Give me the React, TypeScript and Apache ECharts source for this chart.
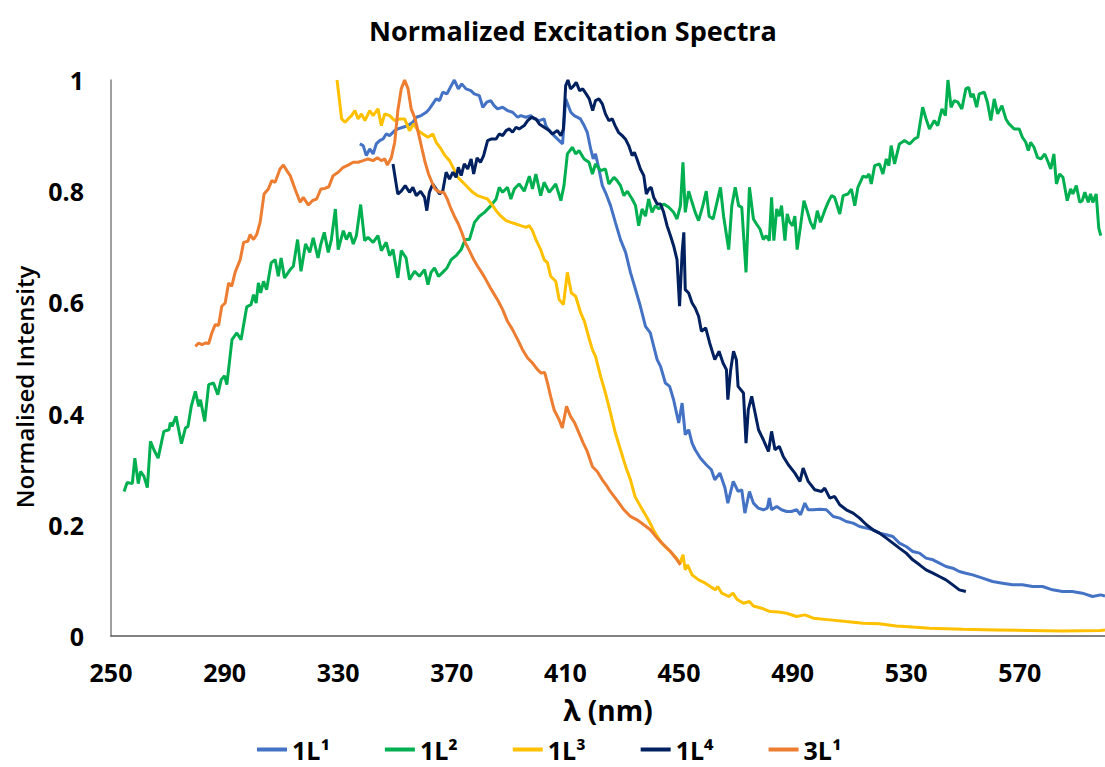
import React, { useEffect, useRef } from "react";
import * as echarts from "echarts";

const xTickLabels = [250, 290, 330, 370, 410, 450, 490, 530, 570];
const yTickLabels = [0, 0.2, 0.4, 0.6, 0.8, 1];
const seriesNames = ["1L¹", "1L²", "1L³", "1L⁴", "3L¹"];
const seriesColors = ["#4472C4", "#00B050", "#FFC000", "#002060", "#ED7D31"];

const data1L1: [number, number][] = [
  [337.6,0.885],[338.8,0.882],[339.9,0.864],[341.1,0.876],[342.3,0.867],[343.4,0.885],[344.6,0.891],[345.8,0.894],[346.9,0.903],[348.1,0.9],[349.9,0.909],[351,0.912],[352.8,0.915],[354.6,0.918],[356.3,0.924],[357.5,0.933],[359.2,0.936],[361,0.942],[362.1,0.948],[363.3,0.957],[364.5,0.966],[365.7,0.963],[366.8,0.978],[368.3,0.975],[369.5,0.987],[370.9,1.0],[372.3,0.984],[373.5,0.993],[375,0.984],[376.7,0.981],[377.9,0.975],[379.7,0.972],[380.9,0.951],[382.3,0.96],[383.7,0.963],[384.9,0.954],[386.1,0.948],[387.9,0.951],[389.6,0.945],[391.4,0.942],[393.2,0.933],[394.3,0.936],[396.1,0.933],[397.8,0.936],[399,0.93],[400.8,0.927],[402.5,0.93],[403.1,0.918],[404.3,0.909],[406,0.9],[407.8,0.891],[409,0.885],[410.1,0.966],[411.9,0.942],[413.1,0.936],[415.3,0.93],[416.6,0.918],[417.7,0.906],[418.9,0.876],[419.8,0.858],[420.6,0.867],[421.8,0.84],[423,0.81],[424.1,0.798],[425.9,0.774],[427.6,0.744],[429.4,0.713],[431.2,0.69],[432.9,0.654],[434.7,0.623],[436.4,0.593],[438.2,0.557],[439.9,0.545],[441.1,0.521],[442.3,0.497],[443.5,0.485],[445.2,0.455],[446.7,0.449],[448.1,0.425],[449.9,0.383],[451.1,0.419],[452.2,0.362],[453.4,0.371],[454.6,0.347],[455.7,0.335],[457.5,0.32],[459.6,0.308],[461.4,0.299],[462.6,0.281],[464.4,0.293],[466.2,0.266],[467.2,0.239],[469.1,0.278],[470.8,0.26],[472.1,0.263],[473.2,0.221],[474.8,0.26],[476.2,0.239],[477.9,0.23],[479.7,0.227],[481.1,0.23],[481.8,0.248],[482.6,0.227],[484.4,0.233],[486.1,0.227],[487.9,0.224],[489.6,0.224],[491.4,0.227],[492.8,0.218],[494.3,0.239],[495.5,0.227],[497.3,0.227],[499.6,0.228],[501.9,0.227],[504.3,0.215],[506.6,0.212],[508.9,0.206],[511.3,0.203],[513.6,0.197],[516,0.194],[518.3,0.191],[520.6,0.185],[523,0.182],[525.3,0.179],[527.6,0.167],[530,0.161],[532.3,0.152],[534.7,0.149],[537,0.14],[539.4,0.137],[541.7,0.131],[544,0.125],[546.4,0.122],[548.7,0.116],[551,0.113],[553.4,0.11],[556.9,0.104],[560.4,0.098],[563.9,0.095],[567.4,0.092],[570.9,0.092],[574.5,0.089],[578,0.089],[581.5,0.083],[585,0.08],[588.5,0.08],[592,0.077],[595.6,0.071],[598.5,0.074],[600,0.072]
];

const data1L2: [number, number][] = [
  [254.6,0.26],[255.7,0.276],[257.5,0.274],[258.4,0.32],[259.6,0.274],[260.4,0.296],[261.6,0.287],[262.8,0.267],[263.9,0.35],[265.1,0.335],[266.6,0.32],[268.6,0.368],[270.4,0.371],[270.9,0.384],[271.5,0.377],[272.9,0.395],[274.8,0.346],[276.2,0.374],[277.1,0.377],[278.3,0.414],[279.7,0.44],[280.9,0.413],[281.5,0.425],[283,0.386],[284.4,0.452],[286.1,0.455],[287.6,0.434],[288.8,0.461],[290,0.468],[290.8,0.452],[292.6,0.533],[294.3,0.545],[295.8,0.533],[297.8,0.592],[299.3,0.596],[300.2,0.614],[301.1,0.599],[301.9,0.635],[302.7,0.617],[303.7,0.638],[304.8,0.623],[306.4,0.671],[307.8,0.677],[308.9,0.647],[309.9,0.68],[311.1,0.644],[313.1,0.659],[314.2,0.665],[315.7,0.713],[316.9,0.656],[318.5,0.705],[320,0.69],[321.2,0.716],[322.9,0.68],[323.9,0.705],[325.1,0.726],[326.5,0.69],[327.6,0.713],[329,0.768],[330,0.695],[331.8,0.729],[332.9,0.713],[334.1,0.726],[335.3,0.705],[336.4,0.72],[337.9,0.776],[339.3,0.711],[340.5,0.717],[342.3,0.708],[344,0.72],[345.2,0.693],[346.9,0.708],[348.1,0.684],[349.3,0.695],[351,0.644],[352.2,0.693],[353.9,0.68],[355.1,0.641],[356.9,0.656],[358.6,0.647],[360.4,0.659],[361.6,0.632],[362.7,0.654],[363.9,0.662],[365.3,0.647],[366.8,0.654],[368.3,0.662],[369.8,0.677],[371.5,0.684],[373.3,0.695],[374.7,0.713],[376.2,0.713],[378,0.744],[379.7,0.755],[381.5,0.762],[383.8,0.774],[385.6,0.786],[386.7,0.807],[387.9,0.798],[389.6,0.807],[390.8,0.786],[392,0.804],[393.7,0.813],[395.5,0.8],[397.3,0.827],[398.4,0.804],[399.6,0.831],[401.3,0.792],[402.5,0.816],[404.3,0.798],[406.6,0.813],[408.4,0.783],[409.5,0.81],[410.7,0.867],[412.5,0.879],[413.6,0.867],[414.8,0.873],[416.6,0.858],[418.3,0.852],[419.5,0.831],[420.6,0.849],[422.4,0.837],[424.1,0.84],[425.3,0.813],[427.1,0.825],[428.2,0.819],[429.4,0.81],[430.6,0.792],[431.8,0.8],[433.5,0.786],[434.7,0.774],[435.8,0.738],[437,0.768],[438.2,0.755],[439.3,0.786],[440.5,0.762],[441.7,0.774],[442.9,0.768],[444.6,0.777],[446.4,0.771],[448.1,0.762],[449.3,0.75],[450.5,0.774],[451.4,0.852],[452.2,0.762],[453.4,0.8],[454.6,0.78],[455.7,0.762],[456.9,0.747],[458.4,0.774],[459.6,0.8],[460.6,0.755],[462,0.75],[463.1,0.774],[464.6,0.807],[465.7,0.755],[467.5,0.695],[468.6,0.774],[469.8,0.807],[471,0.774],[472.1,0.771],[473.6,0.654],[474.8,0.807],[476.2,0.75],[477.3,0.741],[478.5,0.732],[479.7,0.713],[480.7,0.72],[481.8,0.711],[482.6,0.789],[483.4,0.711],[484.4,0.768],[485.3,0.755],[486.1,0.774],[487.3,0.711],[488.1,0.759],[489,0.744],[490,0.738],[490.8,0.755],[491.6,0.695],[492.8,0.738],[494,0.783],[495.1,0.765],[496.3,0.744],[497.5,0.732],[498.7,0.765],[499.8,0.744],[501.3,0.765],[502.5,0.78],[503.7,0.792],[504.8,0.789],[506.6,0.759],[507.8,0.792],[509.5,0.795],[510.7,0.804],[511.9,0.774],[513,0.807],[514.8,0.827],[516,0.825],[516.9,0.831],[517.7,0.813],[518.9,0.846],[520.6,0.849],[521.8,0.831],[523,0.858],[523.9,0.846],[524.7,0.882],[525.9,0.849],[527.6,0.885],[529.4,0.891],[531.2,0.885],[532.9,0.894],[534.1,0.897],[535.8,0.951],[537,0.93],[538.2,0.912],[539.9,0.927],[541.1,0.918],[542.6,0.948],[543.8,0.936],[544.7,1.0],[545.8,0.951],[546.9,0.963],[548.2,0.96],[549.6,0.948],[551,0.984],[552,0.987],[552.8,0.969],[553.6,0.975],[554.8,0.951],[555.7,0.975],[557.5,0.978],[558.6,0.96],[559.8,0.927],[561,0.966],[562.2,0.939],[563.7,0.954],[565.1,0.93],[566.2,0.921],[568,0.912],[569.8,0.912],[570.9,0.897],[572.1,0.888],[573,0.873],[573.8,0.888],[575,0.879],[576.2,0.861],[577.4,0.858],[578.8,0.867],[580,0.852],[580.9,0.84],[582,0.867],[582.9,0.813],[584,0.831],[585.2,0.825],[586.7,0.783],[587.9,0.804],[588.7,0.795],[589.9,0.81],[591.1,0.78],[592,0.783],[592.9,0.798],[594.1,0.78],[594.9,0.795],[595.7,0.78],[596.9,0.795],[597.8,0.734],[598.5,0.72]
];

const data1L3: [number, number][] = [
  [329.6,1.0],[331.2,0.93],[332.4,0.924],[333.5,0.93],[334.7,0.936],[335.9,0.945],[337,0.93],[338.2,0.939],[339.4,0.927],[341.1,0.945],[342.3,0.936],[344,0.948],[345.2,0.918],[346.4,0.939],[348.1,0.936],[349.9,0.927],[351.6,0.93],[353.4,0.93],[355.1,0.909],[356.6,0.921],[358.1,0.909],[359.8,0.903],[361.6,0.897],[363.3,0.903],[364.5,0.888],[366.2,0.876],[367.6,0.864],[369.2,0.855],[370.7,0.84],[372.1,0.825],[373.9,0.816],[375.6,0.807],[377.4,0.798],[379.1,0.792],[380.9,0.789],[382.6,0.786],[384.4,0.774],[385.6,0.765],[387.3,0.755],[389.1,0.747],[390.8,0.744],[392.6,0.741],[394.3,0.738],[396.1,0.735],[397.3,0.738],[398.4,0.729],[399.6,0.713],[401.3,0.695],[402.5,0.677],[403.7,0.671],[404.8,0.647],[406.6,0.638],[407.8,0.605],[409.3,0.596],[410.7,0.654],[412.1,0.617],[413.6,0.611],[415.4,0.581],[416.7,0.566],[418.3,0.536],[419.5,0.515],[420.6,0.503],[422.4,0.467],[424.1,0.437],[425.9,0.401],[427.6,0.365],[429.4,0.335],[431.2,0.305],[432.9,0.281],[434.5,0.251],[436.8,0.23],[439.2,0.209],[441.6,0.185],[443.9,0.167],[446.3,0.155],[448.6,0.143],[450.4,0.131],[451.4,0.146],[452.2,0.119],[453,0.128],[454.6,0.11],[456.9,0.101],[459.3,0.095],[461,0.089],[462.8,0.083],[463.6,0.089],[465.1,0.077],[467.5,0.071],[469,0.077],[470.4,0.066],[472.7,0.059],[474.8,0.062],[476.2,0.054],[479.1,0.05],[482.1,0.044],[485,0.043],[487.9,0.041],[491.4,0.035],[494.3,0.038],[497.3,0.032],[503.1,0.029],[508.9,0.026],[514.8,0.023],[520.6,0.022],[526.5,0.018],[532.3,0.016],[538.2,0.014],[549.9,0.012],[561.6,0.011],[573.3,0.01],[585,0.009],[598.4,0.01],[600,0.011]
];

const data1L4: [number, number][] = [
  [349.3,0.849],[350.5,0.81],[351,0.795],[352.2,0.8],[353.6,0.81],[355.1,0.798],[356.3,0.807],[357.5,0.792],[359,0.8],[360.4,0.789],[361.2,0.765],[362.1,0.798],[363.3,0.813],[364.5,0.804],[365.7,0.795],[366.8,0.8],[368,0.834],[369.2,0.822],[370.4,0.834],[371.5,0.825],[372.3,0.843],[373.3,0.828],[374.4,0.849],[375.6,0.84],[376.8,0.858],[377.7,0.831],[378.9,0.86],[380.1,0.852],[381.2,0.864],[382.6,0.891],[384,0.894],[385.6,0.894],[386.7,0.903],[387.9,0.9],[389.1,0.909],[390.2,0.912],[391.4,0.906],[392.6,0.915],[393.7,0.912],[395.5,0.918],[396.7,0.927],[398.1,0.933],[399.6,0.93],[400.8,0.921],[402.5,0.915],[404.3,0.909],[405.4,0.903],[407.2,0.909],[408.4,0.9],[409.3,0.912],[410.1,0.99],[410.9,1.0],[411.8,0.984],[413,0.99],[413.8,0.996],[415,0.981],[416.1,0.984],[417.3,0.975],[418.4,0.966],[419.6,0.945],[420.6,0.963],[421.8,0.966],[423,0.957],[424.1,0.939],[425.3,0.927],[426.5,0.93],[427.5,0.918],[428.7,0.906],[430,0.9],[431.1,0.894],[432.3,0.882],[433.5,0.864],[434.3,0.87],[435.2,0.858],[436.4,0.84],[437.6,0.828],[438.5,0.795],[439.4,0.804],[440.2,0.807],[441.1,0.789],[442.3,0.777],[443.5,0.777],[444.6,0.762],[445.8,0.738],[447,0.72],[448.1,0.702],[449.3,0.677],[450.2,0.593],[451.1,0.69],[451.7,0.726],[452.2,0.623],[453.4,0.617],[454.6,0.599],[455.7,0.59],[456.9,0.575],[457.9,0.548],[459.4,0.554],[460.8,0.527],[462.6,0.497],[464.1,0.512],[465.5,0.491],[466.7,0.479],[467.2,0.425],[468.2,0.479],[469.2,0.512],[470.2,0.497],[470.8,0.449],[472.7,0.437],[473.6,0.347],[474.4,0.407],[475.6,0.431],[476.8,0.401],[478,0.371],[479.7,0.353],[481.5,0.332],[482.6,0.368],[483.8,0.335],[485.3,0.341],[486.7,0.323],[488.5,0.308],[490.8,0.293],[492.6,0.278],[493.7,0.302],[495.5,0.278],[497.8,0.263],[500.2,0.26],[501.3,0.266],[503.1,0.248],[504.8,0.251],[506.6,0.236],[508.9,0.227],[511.3,0.221],[513.6,0.212],[516,0.2],[518.3,0.191],[520.6,0.185],[523,0.176],[525.3,0.167],[527.6,0.158],[530,0.149],[532.3,0.137],[534.7,0.128],[537,0.119],[539.4,0.113],[541.7,0.107],[544,0.101],[546.4,0.092],[548.7,0.083],[551,0.08]
];

const data3L1: [number, number][] = [
  [279.7,0.521],[280.9,0.527],[282,0.524],[283.4,0.527],[284.4,0.526],[285.5,0.545],[286.7,0.56],[287.9,0.559],[289,0.593],[290.2,0.599],[291.4,0.635],[292.5,0.629],[293.7,0.654],[295.5,0.677],[296.7,0.708],[298.2,0.71],[299,0.722],[300.2,0.713],[301.3,0.722],[302.5,0.744],[303.9,0.795],[305.4,0.804],[306.6,0.819],[307.8,0.816],[309.5,0.84],[310.7,0.847],[311.9,0.837],[313.1,0.828],[314.8,0.804],[316.6,0.78],[317.7,0.789],[319.5,0.775],[320.9,0.783],[322.4,0.786],[323.9,0.804],[325.3,0.805],[326.7,0.808],[328.2,0.828],[330,0.834],[331.8,0.843],[333.5,0.847],[335.3,0.852],[337,0.852],[338.8,0.855],[340.5,0.858],[342.3,0.855],[343.8,0.86],[345.2,0.855],[346.4,0.858],[347.3,0.847],[348.7,0.86],[349.9,0.888],[351,0.945],[352.2,0.984],[353.4,1.0],[354.6,0.984],[355.7,0.948],[357.1,0.93],[358.3,0.903],[359.5,0.876],[360.6,0.852],[361.8,0.831],[363,0.816],[364.1,0.804],[365.7,0.798],[367.2,0.798],[368.4,0.786],[369.5,0.771],[370.9,0.755],[372.3,0.741],[373.5,0.726],[374.7,0.708],[376.2,0.693],[377.7,0.677],[379.1,0.665],[380.5,0.654],[382,0.641],[383.6,0.626],[385,0.614],[386.4,0.602],[387.9,0.587],[389.6,0.566],[391.4,0.551],[393.2,0.533],[394.9,0.515],[396.7,0.5],[398.4,0.491],[400.2,0.479],[401.4,0.473],[402.7,0.474],[403.7,0.455],[404.8,0.431],[406,0.407],[407.8,0.389],[408.9,0.374],[410.4,0.413],[411.8,0.395],[413.3,0.383],[414.8,0.365],[416.3,0.347],[417.7,0.332],[419.5,0.305],[421.2,0.296],[423,0.281],[424.7,0.269],[425.8,0.26],[428.2,0.244],[430.6,0.227],[432.9,0.215],[435.2,0.209],[437.6,0.2],[439.9,0.191],[442.3,0.176],[444.6,0.164],[447,0.152],[449.3,0.137],[450.5,0.128]
];

const allData = [data1L1, data1L2, data1L3, data1L4, data3L1];
const FONT = "'Open Sans', 'Noto Sans', sans-serif";

export default function App() {
  const ref = useRef<HTMLDivElement>(null);
  useEffect(() => {
    if (!ref.current) return;
    const chart = echarts.init(ref.current, null, { renderer: "svg" });
    chart.setOption({
      animation: false,
      backgroundColor: "#ffffff",
      title: {
        text: "Normalized Excitation Spectra",
        left: 568,
        textAlign: "center",
        top: 12,
        textStyle: { fontFamily: FONT, fontSize: 27, fontWeight: "bold", color: "#000" },
      },
      legend: {
        data: seriesNames,
        left: 252,
        top: 732,
        icon: "rect",
        itemWidth: 30,
        itemHeight: 4,
        itemGap: 55,
        textStyle: { fontFamily: FONT, fontSize: 25, fontWeight: "bold", color: "#000" },
      },
      graphic: [
        {
          type: "text",
          x: 24,
          y: 387,
          rotation: Math.PI / 2,
          style: {
            text: "Normalised Intensity",
            fontFamily: FONT,
            fontSize: 24,
            fontWeight: 600,
            fill: "#000",
            textAlign: "center",
            textVerticalAlign: "middle",
          },
        },
      ],
      grid: { left: 111, right: -8, top: 80, bottom: 131, containLabel: false },
      xAxis: {
        type: "value",
        min: 250,
        max: 600,
        name: "λ (nm)",
        nameLocation: "middle",
        nameGap: 60,
        nameTextStyle: { fontFamily: FONT, fontSize: 28, fontWeight: "bold", color: "#000" },
        axisLine: { show: true, lineStyle: { color: "#595959", width: 1.5 } },
        axisTick: { show: false },
        splitLine: { show: false },
        axisLabel: {
          customValues: xTickLabels,
          margin: 23,
          fontFamily: FONT,
          fontSize: 25,
          fontWeight: "bold",
          color: "#000",
        },
      },
      yAxis: {
        type: "value",
        min: 0,
        max: 1,
        interval: 0.2,
        axisLine: { show: true, lineStyle: { color: "#7f7f7f", width: 1.5 } },
        axisTick: { show: false },
        splitLine: { show: false },
        axisLabel: {
          customValues: yTickLabels,
          margin: 27,
          fontFamily: FONT,
          fontSize: 25,
          fontWeight: "bold",
          color: "#000",
          formatter: (v: number) => (v === 0 || v === 1 ? String(v) : v.toFixed(1)),
        },
      },
      series: allData.map((d, i) => ({
        name: seriesNames[i],
        type: "line",
        data: d,
        showSymbol: false,
        symbol: "none",
        clip: true,
        color: seriesColors[i],
        lineStyle: { color: seriesColors[i], width: 3 },
      })),
    });
    return () => chart.dispose();
  }, []);
  return (
    <div
      ref={ref}
      style={{ position: "absolute", left: 0, top: 0, width: 1105, height: 767 }}
    />
  );
}
